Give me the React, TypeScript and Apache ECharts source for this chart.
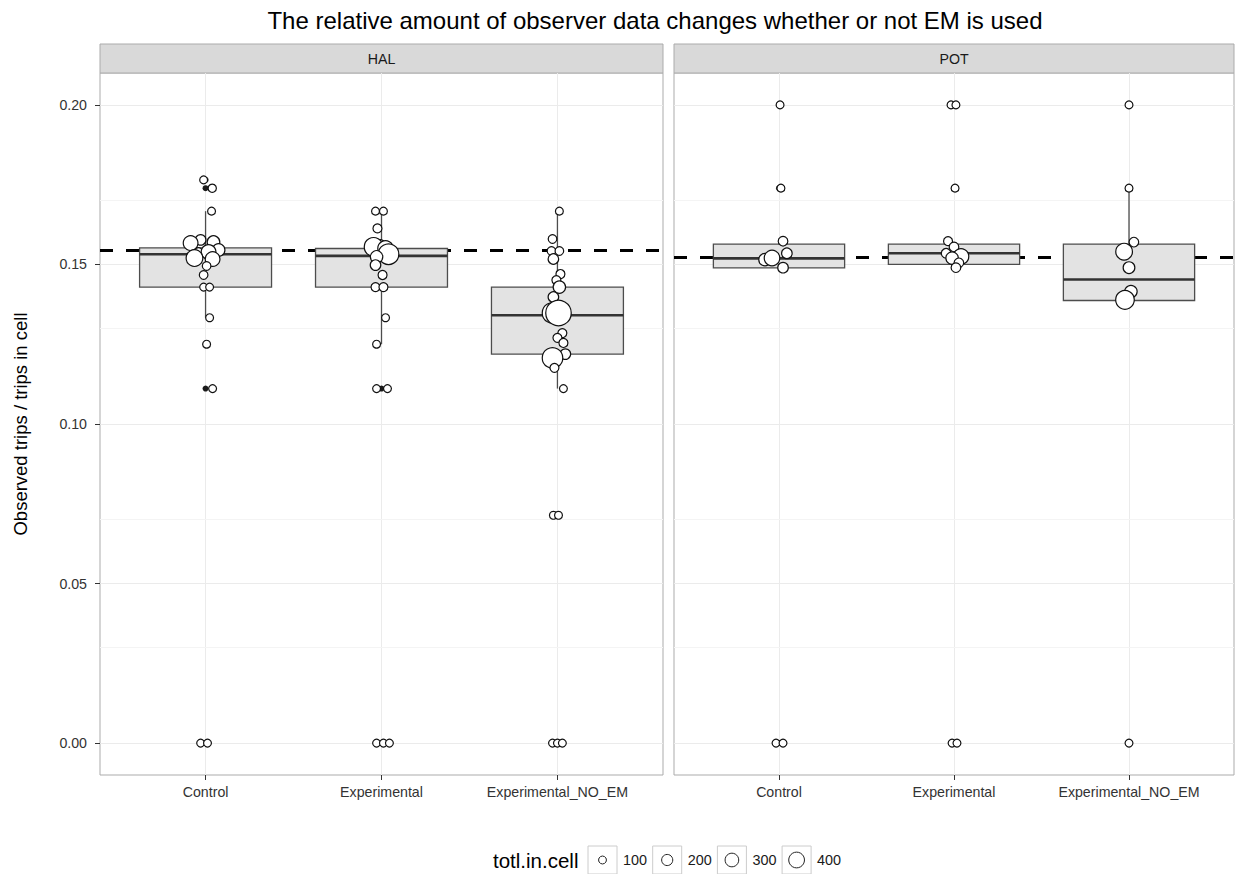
import React, { useEffect, useRef } from "react";
import * as echarts from "echarts";

const panels = ["HAL", "POT"];
const groups = ["Control", "Experimental", "Experimental_NO_EM"];
const yTicks = [0, 0.05, 0.1, 0.15, 0.2];
const yMinor = [0.025, 0.075, 0.125, 0.175];
const refLine = [0.1544, 0.1522];
const legendValues = [100, 200, 300, 400];

// box stats per group: [lowerWhisker, q1, median, q3, upperWhisker]
const halBoxes = [
  [0.1333, 0.1429, 0.1532, 0.1552, 0.1667],
  [0.125, 0.1429, 0.1527, 0.155, 0.1667],
  [0.1111, 0.1219, 0.1341, 0.1429, 0.1667],
];
const potBoxes = [
  [0.1489, 0.1489, 0.1519, 0.1564, 0.1564],
  [0.15, 0.15, 0.1535, 0.1564, 0.1564],
  [0.1387, 0.1387, 0.1453, 0.1564, 0.1739],
];

// boxplot outliers per group
const halOutliers = [[0.1765, 0.1739, 0.125, 0.1111, 0], [0.1111, 0], [0.0714, 0]];
const potOutliers = [[0.2, 0.1739, 0], [0.2, 0.1739, 0], [0.2, 0]];

// jittered points: [value, jitter (category units), totl.in.cell]
const halControl = [
  [0.1765, -0.011, 100], [0.1739, 0.038, 110], [0.1667, 0.034, 100],
  [0.1577, -0.028, 180], [0.1567, -0.085, 350], [0.157, 0.045, 260],
  [0.1545, 0.074, 260], [0.1539, -0.04, 120], [0.1539, 0.017, 350],
  [0.152, -0.063, 450], [0.1517, 0.04, 350], [0.1495, 0.006, 120],
  [0.1467, -0.011, 120], [0.1429, -0.011, 100], [0.1429, 0.023, 100],
  [0.1333, 0.023, 100], [0.125, 0.006, 100], [0.1111, 0.04, 100],
  [0, -0.028, 100], [0, 0.011, 100],
];
const halExperimental = [
  [0.1667, -0.034, 100], [0.1667, 0.011, 100], [0.1613, -0.023, 130],
  [0.1561, -0.006, 180], [0.1555, -0.045, 560], [0.155, 0.023, 390],
  [0.1532, 0.04, 680], [0.1524, -0.028, 250], [0.1498, -0.034, 180],
  [0.1467, 0.006, 130], [0.1429, -0.034, 130], [0.1429, 0.011, 130],
  [0.1333, 0.023, 100], [0.125, -0.028, 100], [0.1111, -0.028, 100],
  [0.1111, 0.034, 100], [0, -0.028, 100], [0, 0.011, 100], [0, 0.045, 100],
];
const halNoEm = [
  [0.1667, 0.011, 100], [0.158, -0.028, 120], [0.1542, -0.034, 120],
  [0.1542, 0.011, 120], [0.1517, -0.023, 180], [0.147, 0.017, 130],
  [0.1451, -0.006, 130], [0.1429, 0.011, 250], [0.1398, -0.023, 180],
  [0.1348, -0.028, 680], [0.1348, 0.006, 1050], [0.1285, 0.028, 130],
  [0.127, 0.0, 130], [0.1254, 0.034, 130], [0.1219, 0.045, 180],
  [0.1207, -0.028, 680], [0.1176, -0.017, 130], [0.1111, 0.034, 100],
  [0.0714, -0.023, 100], [0.0714, 0.006, 100],
  [0, -0.028, 100], [0, 0.0, 100], [0, 0.028, 100],
];
const potControl = [
  [0.2, 0.006, 100], [0.1739, 0.011, 100], [0.1573, 0.023, 150],
  [0.1535, 0.045, 180], [0.1515, -0.08, 250], [0.152, -0.04, 390],
  [0.149, 0.023, 180], [0, -0.017, 100], [0, 0.023, 100],
];
const potExperimental = [
  [0.2, -0.017, 100], [0.2, 0.011, 100], [0.1739, 0.006, 100],
  [0.1573, -0.034, 130], [0.1555, 0.0, 150], [0.1535, -0.045, 150],
  [0.1525, 0.04, 390], [0.152, -0.011, 250], [0.1505, 0.028, 150],
  [0.149, 0.011, 150], [0, -0.011, 100], [0, 0.017, 100],
];
const potNoEm = [
  [0.2, 0.0, 100], [0.1739, 0.0, 100], [0.157, 0.028, 150],
  [0.154, -0.028, 450], [0.149, 0.0, 220], [0.1415, 0.011, 250],
  [0.1389, -0.023, 560], [0, 0.0, 100],
];

const panelBoxes = [halBoxes, potBoxes];
const panelOutliers = [halOutliers, potOutliers];
const panelPoints = [
  [halControl, halExperimental, halNoEm],
  [potControl, potExperimental, potNoEm],
];

const FONT = "'Liberation Sans', Arial, sans-serif";
const sizeOf = (v: number) => Math.sqrt(Math.max(0.62 * v, 20));

const gridDefs = [
  { left: 100, top: 73, width: 563, height: 702 },
  { left: 674, top: 73, width: 560, height: 702 },
];

export default function App() {
  const ref = useRef<HTMLDivElement>(null);
  useEffect(() => {
    if (!ref.current) return;
    const chart = echarts.init(ref.current, undefined, { renderer: "svg" });

    const grid = gridDefs.map((g) => ({
      ...g,
      show: true,
      borderColor: "#ababab",
      borderWidth: 1,
      backgroundColor: "#ffffff",
      containLabel: false,
    }));

    const xAxis = panels.map((_, i) => ({
      type: "value",
      gridIndex: i,
      min: 0.4,
      max: 3.6,
      axisLine: { show: false, onZero: false },
      axisTick: {
        show: true,
        customValues: [1, 2, 3],
        length: 5,
        lineStyle: { color: "#333333" },
      },
      axisLabel: {
        customValues: [1, 2, 3],
        formatter: (v: number) => groups[Math.round(v) - 1] ?? "",
        fontSize: 14.2,
        color: "#333333",
        margin: 10,
        fontFamily: FONT,
      },
      splitLine: { show: true, lineStyle: { color: "#ebebeb", width: 1 } },
    }));

    const yAxis = panels.map((_, i) => ({
      type: "value",
      gridIndex: i,
      min: -0.01,
      max: 0.21,
      axisLine: { show: false, onZero: false },
      axisTick: {
        show: i === 0,
        customValues: yTicks,
        length: 5,
        lineStyle: { color: "#333333" },
      },
      axisLabel: {
        show: i === 0,
        customValues: yTicks,
        formatter: (v: number) => v.toFixed(2),
        fontSize: 14.2,
        color: "#333333",
        margin: 13,
        fontFamily: FONT,
      },
      splitLine: { show: true, lineStyle: { color: "#ebebeb", width: 1 } },
    }));

    const series: any[] = [];
    panels.forEach((_, i) => {
      // reference dashed line + minor grid lines
      series.push({
        type: "line",
        xAxisIndex: i,
        yAxisIndex: i,
        z: 2,
        silent: true,
        symbol: "none",
        showSymbol: false,
        data: [
          [0.4, refLine[i]],
          [3.6, refLine[i]],
        ],
        lineStyle: { color: "#000000", width: 3, type: [13, 13] },
        markLine: {
          silent: true,
          symbol: "none",
          label: { show: false },
          lineStyle: { type: "solid", color: "#f4f4f4", width: 1 },
          data: yMinor.map((v) => ({ yAxis: v })),
          z: 1,
        },
      });
      // boxes
      series.push({
        type: "custom",
        xAxisIndex: i,
        yAxisIndex: i,
        z: 3,
        silent: true,
        data: panelBoxes[i].map((b, k) => [k + 1, ...b]),
        encode: { x: 0, y: [1, 2, 3, 4, 5] },
        renderItem: (params: any, api: any) => {
          const x = api.value(0);
          const lo = api.coord([x, api.value(1)]);
          const q1 = api.coord([x, api.value(2)]);
          const med = api.coord([x, api.value(3)]);
          const q3 = api.coord([x, api.value(4)]);
          const hi = api.coord([x, api.value(5)]);
          const w = api.size([0.75, 0])[0];
          const stroke = "#4d4d4d";
          return {
            type: "group",
            children: [
              {
                type: "line",
                shape: { x1: hi[0], y1: hi[1], x2: q3[0], y2: q3[1] },
                style: { stroke, lineWidth: 1.3 },
              },
              {
                type: "line",
                shape: { x1: q1[0], y1: q1[1], x2: lo[0], y2: lo[1] },
                style: { stroke, lineWidth: 1.3 },
              },
              {
                type: "rect",
                shape: { x: q3[0] - w / 2, y: q3[1], width: w, height: q1[1] - q3[1] },
                style: { fill: "#e3e3e3", stroke, lineWidth: 1.3 },
              },
              {
                type: "line",
                shape: { x1: med[0] - w / 2, y1: med[1], x2: med[0] + w / 2, y2: med[1] },
                style: { stroke: "#333333", lineWidth: 2.6 },
              },
            ],
          };
        },
      });
      // outliers
      const outData: number[][] = [];
      panelOutliers[i].forEach((arr, k) => arr.forEach((v) => outData.push([k + 1, v])));
      series.push({
        type: "scatter",
        xAxisIndex: i,
        yAxisIndex: i,
        z: 4,
        silent: true,
        symbolSize: 6,
        itemStyle: { color: "#1a1a1a", opacity: 1 },
        data: outData,
      });
      // jittered points
      const ptData: number[][] = [];
      panelPoints[i].forEach((arr, k) =>
        arr.forEach((p) => ptData.push([k + 1 + p[1], p[0], p[2]]))
      );
      series.push({
        type: "scatter",
        xAxisIndex: i,
        yAxisIndex: i,
        z: 5,
        silent: true,
        symbolSize: (val: number[]) => sizeOf(val[2]),
        itemStyle: { color: "#ffffff", borderColor: "#111111", borderWidth: 1.2, opacity: 1 },
        data: ptData,
      });
    });

    const graphic: any[] = [];
    // title
    graphic.push({
      type: "text",
      x: 655,
      y: 20,
      style: {
        text: "The relative amount of observer data changes whether or not EM is used",
        textAlign: "center",
        textVerticalAlign: "middle",
        fontSize: 24,
        fill: "#000000",
        fontFamily: FONT,
      },
    });
    // strips
    panels.forEach((p, i) => {
      const g = gridDefs[i];
      graphic.push({
        type: "rect",
        shape: { x: g.left, y: 44, width: g.width, height: 29 },
        style: { fill: "#d9d9d9", stroke: "#ababab", lineWidth: 1 },
      });
      graphic.push({
        type: "text",
        x: g.left + g.width / 2,
        y: 58.5,
        style: {
          text: p,
          textAlign: "center",
          textVerticalAlign: "middle",
          fontSize: 14.2,
          fill: "#1a1a1a",
          fontFamily: FONT,
        },
      });
    });
    // y axis title
    graphic.push({
      type: "text",
      x: 20,
      y: 424,
      rotation: Math.PI / 2,
      style: {
        text: "Observed trips / trips in cell",
        textAlign: "center",
        textVerticalAlign: "middle",
        fontSize: 18.5,
        fill: "#000000",
        fontFamily: FONT,
      },
    });
    // legend
    graphic.push({
      type: "text",
      x: 493,
      y: 860,
      style: {
        text: "totl.in.cell",
        textAlign: "left",
        textVerticalAlign: "middle",
        fontSize: 20.5,
        fill: "#000000",
        fontFamily: FONT,
      },
    });
    legendValues.forEach((v, i) => {
      const kx = 588 + i * 64.7;
      graphic.push({
        type: "rect",
        shape: { x: kx, y: 846, width: 29, height: 28 },
        style: { fill: "#ffffff", stroke: "#cccccc", lineWidth: 1 },
      });
      graphic.push({
        type: "circle",
        shape: { cx: kx + 14.5, cy: 860, r: sizeOf(v) / 2 },
        style: { fill: "#ffffff", stroke: "#222222", lineWidth: 1 },
      });
      graphic.push({
        type: "text",
        x: kx + 35,
        y: 860,
        style: {
          text: String(v),
          textAlign: "left",
          textVerticalAlign: "middle",
          fontSize: 14.4,
          fill: "#1a1a1a",
          fontFamily: FONT,
        },
      });
    });

    chart.setOption({
      animation: false,
      backgroundColor: "#ffffff",
      textStyle: { fontFamily: FONT },
      grid,
      xAxis,
      yAxis,
      series,
      graphic,
    });
    return () => chart.dispose();
  }, []);

  return (
    <div
      ref={ref}
      style={{ position: "absolute", left: 0, top: 0, width: 1236, height: 874 }}
    />
  );
}
